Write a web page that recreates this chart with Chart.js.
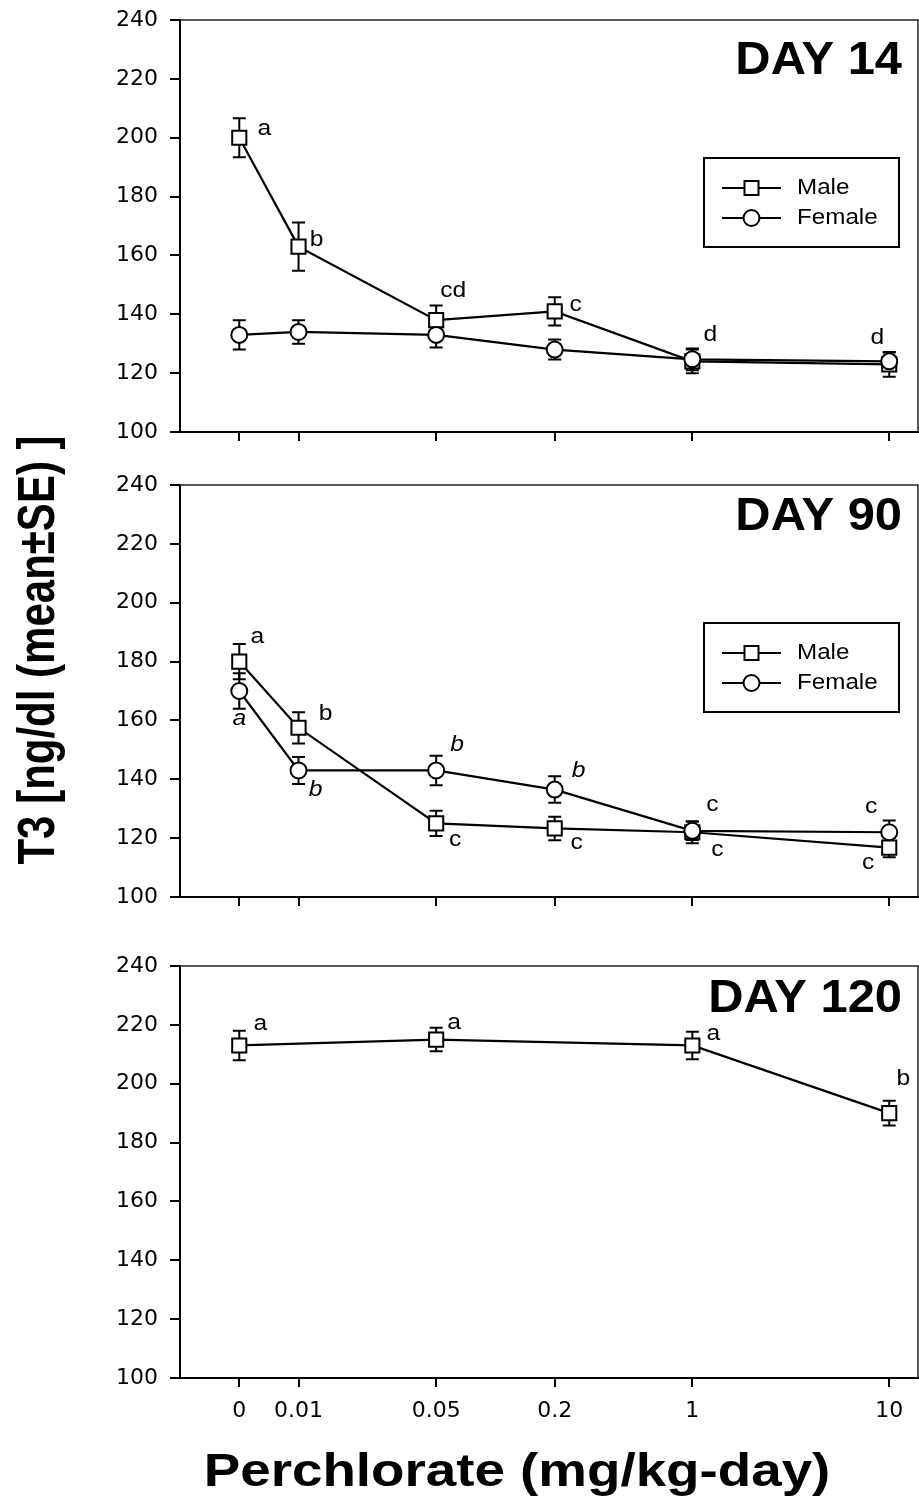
<!DOCTYPE html>
<html>
<head>
<meta charset="utf-8">
<script src="https://cdn.jsdelivr.net/npm/chart.js@4.4.0/dist/chart.umd.min.js"></script>
<style>
  html, body { margin: 0; padding: 0; background: #fff; }
  #wrap { position: relative; width: 919px; height: 1499px; }
  #wrap canvas { position: absolute; left: 0; top: 0; }
</style>
</head>
<body>
<div id="wrap">
  <canvas id="day14" width="919" height="1499"></canvas>
  <canvas id="day90" width="919" height="1499"></canvas>
  <canvas id="day120" width="919" height="1499"></canvas>
</div>
<script>
// ---- data ----
const DOSES = [0, 0.01, 0.05, 0.2, 1, 10];
const X_TICK_LABELS = ["0", "0.01", "0.05", "0.2", "1", "10"];
const ZERO_AT = 0.005;            // control group drawn here on the log axis
const Y_TICKS = [100, 120, 140, 160, 180, 200, 220, 240];

// Day 14
const D14_MALE       = [200, 163, 138, 141, 124, 123];
const D14_MALE_SE    = [6.6, 8.2, 5, 4.8, 4, 4.2];
const D14_MALE_SIG   = ["a", "b", "cd", "c", "d", "d"];
const D14_FEMALE     = [133, 134, 133, 128, 124.7, 124];
const D14_FEMALE_SE  = [5, 4, 4.3, 3.4, 3.7, 3];
const D14_FEMALE_SIG = [null, null, null, null, null, null];

// Day 90
const D90_MALE       = [180, 157.5, 125, 123.3, 122, 116.8];
const D90_MALE_SE    = [6, 5.3, 4.3, 4, 3.7, 3.3];
const D90_MALE_SIG   = ["a", "b", "c", "c", "c", "c"];
const D90_FEMALE     = [170, 143, 143, 136.5, 122.5, 122];
const D90_FEMALE_SE  = [6, 4.6, 5, 4.5, 3.1, 4];
const D90_FEMALE_SIG = ["a", "b", "b", "b", "c", "c"];

// Day 120 (males only, no 0.01 / 0.2 groups)
const D120_MALE      = [213, null, 215, null, 213, 190];
const D120_MALE_SE   = [5, null, 4, null, 4.7, 4.2];
const D120_MALE_SIG  = ["a", null, "a", null, "a", "b"];

// ---- layout / style ----
const W = 919, H = 1499;
const PLOT_LEFT = 180, PLOT_RIGHT = 918;
const Y_AXIS_W = 70, X_AXIS_H = 60;
const TICK_FONT = { family: "DejaVu Sans", size: 22 };
const TEXT = '"Liberation Sans", Arial, sans-serif';

// label offsets (px from the marker centre)
const OFF_D14_MALE   = [[25, -9], [18, -7], [17, -29], [21, -6], [18, -26], [-12, -26]];
const OFF_D90_MALE   = [[18, -25], [27, -14], [19, 17], [22, 15], [25, 18], [-21, 15]];
const OFF_D90_FEMALE = [[0, 28], [17, 19], [21, -26], [24, -19], [20, -26], [-18, -25]];
const ITAL_D90_FEMALE = [true, true, true, true, false, false];
const OFF_D120_MALE  = [[21, -22], null, [18, -17], null, [21, -12], [14, -34]];

const xPos = d => (d === 0 ? ZERO_AT : d);

function drawText(ctx, text, x, y, font, stretch, align, baseline) {
  ctx.save();
  ctx.translate(x, y);
  ctx.scale(stretch, 1);
  ctx.font = font;
  ctx.fillStyle = "#000";
  ctx.textAlign = align || "center";
  ctx.textBaseline = baseline || "middle";
  ctx.fillText(text, 0, 0);
  ctx.restore();
}

function drawMarker(ctx, shape, x, y) {
  ctx.save();
  ctx.fillStyle = "#fff";
  ctx.strokeStyle = "#000";
  ctx.lineWidth = 2;
  ctx.beginPath();
  if (shape === "rect") ctx.rect(x - 7, y - 7, 14, 14);
  else ctx.arc(x, y, 8, 0, Math.PI * 2);
  ctx.fill();
  ctx.stroke();
  ctx.restore();
}

const PANELS = [
  {
    id: "day14", top: 20, bottom: 432, title: "DAY 14", titleDrop: 54,
    legend: true, xLabels: false,
    series: [
      { label: "Male", shape: "rect", values: D14_MALE, se: D14_MALE_SE, sig: D14_MALE_SIG, off: OFF_D14_MALE },
      { label: "Female", shape: "circle", values: D14_FEMALE, se: D14_FEMALE_SE, sig: D14_FEMALE_SIG, off: [] }
    ]
  },
  {
    id: "day90", top: 485, bottom: 897, title: "DAY 90", titleDrop: 45,
    legend: true, xLabels: false,
    series: [
      { label: "Male", shape: "rect", values: D90_MALE, se: D90_MALE_SE, sig: D90_MALE_SIG, off: OFF_D90_MALE },
      { label: "Female", shape: "circle", values: D90_FEMALE, se: D90_FEMALE_SE, sig: D90_FEMALE_SIG, off: OFF_D90_FEMALE, italic: ITAL_D90_FEMALE }
    ]
  },
  {
    id: "day120", top: 966, bottom: 1378, title: "DAY 120", titleDrop: 46,
    legend: false, xLabels: true, pageTitles: true,
    series: [
      { label: "Male", shape: "rect", values: D120_MALE, se: D120_MALE_SE, sig: D120_MALE_SIG, off: OFF_D120_MALE }
    ]
  }
];

function decorations(panel) {
  return {
    id: "decor_" + panel.id,
    beforeDatasetsDraw(chart) {
      const { ctx, chartArea: a, scales } = chart;
      // top / right frame
      ctx.save();
      ctx.strokeStyle = "#222";
      ctx.lineWidth = 1.5;
      ctx.beginPath();
      ctx.moveTo(a.left, a.top);
      ctx.lineTo(a.right, a.top);
      ctx.lineTo(a.right, a.bottom);
      ctx.stroke();
      // error bars
      ctx.strokeStyle = "#000";
      ctx.lineWidth = 2;
      panel.series.forEach(s => {
        s.values.forEach((v, i) => {
          if (v == null) return;
          const x = scales.x.getPixelForValue(xPos(DOSES[i]));
          const y1 = scales.y.getPixelForValue(v + s.se[i]);
          const y2 = scales.y.getPixelForValue(v - s.se[i]);
          ctx.beginPath();
          ctx.moveTo(x, y1); ctx.lineTo(x, y2);
          ctx.moveTo(x - 6.5, y1); ctx.lineTo(x + 6.5, y1);
          ctx.moveTo(x - 6.5, y2); ctx.lineTo(x + 6.5, y2);
          ctx.stroke();
        });
      });
      ctx.restore();
    },
    afterDraw(chart) {
      const { ctx, chartArea: a } = chart;
      drawText(ctx, panel.title, a.right - 16, a.top + panel.titleDrop,
        "bold 47px " + TEXT, 1.04, "right", "alphabetic");

      // significance letters
      panel.series.forEach((s, si) => {
        const meta = chart.getDatasetMeta(si);
        s.sig.forEach((t, i) => {
          if (!t || !s.off[i]) return;
          const p = meta.data[i];
          const it = s.italic && s.italic[i];
          drawText(ctx, t, p.x + s.off[i][0], p.y + s.off[i][1],
            (it ? "italic " : "") + "22px " + TEXT, 1.12);
        });
      });

      if (panel.legend) {
        const bx = a.right - 19 - 195, by = a.top + 138;
        ctx.save();
        ctx.fillStyle = "#fff";
        ctx.fillRect(bx, by, 195, 89);
        ctx.strokeStyle = "#000";
        ctx.lineWidth = 2;
        ctx.strokeRect(bx, by, 195, 89);
        panel.series.forEach((s, si) => {
          const ry = by + 30 + si * 30;
          ctx.beginPath();
          ctx.moveTo(bx + 18, ry); ctx.lineTo(bx + 77, ry);
          ctx.stroke();
          drawMarker(ctx, s.shape, bx + 47.5, ry);
          drawText(ctx, s.label, bx + 93, ry, "22px " + TEXT, 1.1, "left", "middle");
        });
        ctx.restore();
      }

      if (panel.pageTitles) {
        drawText(ctx, "Perchlorate (mg/kg-day)", 517, 1486, "bold 46px " + TEXT, 1.19, "center", "alphabetic");
        ctx.save();
        ctx.translate(54, 650);
        ctx.scale(1.25, 1);
        ctx.rotate(-Math.PI / 2);
        ctx.font = "bold 42px " + TEXT;
        ctx.fillStyle = "#000";
        ctx.textAlign = "center";
        ctx.textBaseline = "alphabetic";
        ctx.fillText("T3 [ng/dl (mean\u00b1SE) ]", 0, 0);
        ctx.restore();
      }
    }
  };
}

PANELS.forEach(panel => {
  const datasets = panel.series.map(s => ({
    label: s.label,
    data: DOSES.map((d, i) => ({ x: xPos(d), y: s.values[i] })),
    borderColor: "#000",
    borderWidth: 2.2,
    tension: 0,
    spanGaps: true,
    fill: false,
    order: s.shape === "circle" ? 0 : 1,
    pointStyle: s.shape,
    pointRadius: s.shape === "rect" ? 10 : 8,
    pointBorderWidth: 2,
    pointBackgroundColor: "#fff",
    pointBorderColor: "#000"
  }));

  new Chart(document.getElementById(panel.id), {
    type: "line",
    data: { datasets },
    options: {
      responsive: false,
      animation: false,
      events: [],
      layout: {
        autoPadding: false,
        padding: {
          left: PLOT_LEFT - Y_AXIS_W,
          right: W - PLOT_RIGHT,
          top: panel.top,
          bottom: H - panel.bottom - X_AXIS_H
        }
      },
      plugins: { legend: { display: false }, tooltip: { enabled: false } },
      scales: {
        x: {
          type: "logarithmic",
          min: 0.0025,
          max: 14,
          afterBuildTicks: s => { s.ticks = DOSES.map(d => ({ value: xPos(d) })); },
          afterFit: s => { s.height = X_AXIS_H; s.paddingLeft = 0; s.paddingRight = 0; },
          ticks: {
            autoSkip: false,
            maxRotation: 0,
            color: "#000",
            font: TICK_FONT,
            padding: 11,
            callback: (v, i) => (panel.xLabels ? X_TICK_LABELS[i] : "")
          },
          grid: { drawOnChartArea: false, tickLength: 9, color: "#000", lineWidth: 2 },
          border: { display: true, color: "#000", width: 2 }
        },
        y: {
          min: Y_TICKS[0],
          max: Y_TICKS[Y_TICKS.length - 1],
          afterBuildTicks: s => { s.ticks = Y_TICKS.map(v => ({ value: v })); },
          afterFit: s => { s.width = Y_AXIS_W; s.paddingTop = 0; s.paddingBottom = 0; },
          ticks: { color: "#000", font: TICK_FONT, padding: 12 },
          grid: { drawOnChartArea: false, tickLength: 10, color: "#000", lineWidth: 2 },
          border: { display: true, color: "#000", width: 2 }
        }
      }
    },
    plugins: [decorations(panel)]
  });
});
</script>
</body>
</html>
